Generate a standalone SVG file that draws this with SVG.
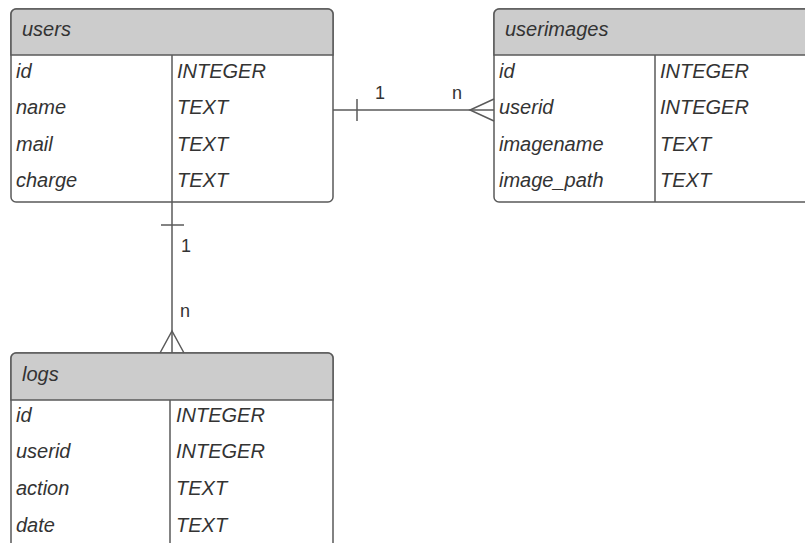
<svg xmlns="http://www.w3.org/2000/svg" width="805" height="543" viewBox="0 0 805 543">
  <style>
    .frame { fill: #ffffff; stroke: #5a5a5a; stroke-width: 1.5; }
    .head { fill: #cccccc; stroke: #5a5a5a; stroke-width: 1.5; }
    .rule { stroke: #5a5a5a; stroke-width: 1.5; fill: none; }
    .t { font-family: "Liberation Sans", Arial, sans-serif; font-style: italic; font-size: 20px; fill: #333333; }
    .card { font-family: "Liberation Sans", Arial, sans-serif; font-size: 18px; fill: #333333; }
    .link { stroke: #5a5a5a; stroke-width: 1.5; fill: none; }
  </style>

  <!-- users table -->
  <g id="users">
    <rect class="frame" x="11" y="9" width="322" height="193" rx="5"/>
    <path class="head" d="M11,55 V14 a5,5 0 0 1 5,-5 H328 a5,5 0 0 1 5,5 V55 Z"/>
    <line class="rule" x1="172" y1="55" x2="172" y2="202"/>
    <text class="t" x="22" y="36">users</text>
    <text class="t" x="16" y="78">id</text>
    <text class="t" x="16" y="114">name</text>
    <text class="t" x="16" y="151">mail</text>
    <text class="t" x="16" y="187">charge</text>
    <text class="t" x="177" y="78">INTEGER</text>
    <text class="t" x="177" y="114">TEXT</text>
    <text class="t" x="177" y="151">TEXT</text>
    <text class="t" x="177" y="187">TEXT</text>
  </g>

  <!-- userimages table -->
  <g id="userimages">
    <rect class="frame" x="494" y="9" width="330" height="193" rx="5"/>
    <path class="head" d="M494,55 V14 a5,5 0 0 1 5,-5 H830 V55 Z"/>
    <line class="rule" x1="655" y1="55" x2="655" y2="202"/>
    <text class="t" x="505" y="36">userimages</text>
    <text class="t" x="499" y="78">id</text>
    <text class="t" x="499" y="114">userid</text>
    <text class="t" x="499" y="151">imagename</text>
    <text class="t" x="499" y="187">image_path</text>
    <text class="t" x="660" y="78">INTEGER</text>
    <text class="t" x="660" y="114">INTEGER</text>
    <text class="t" x="660" y="151">TEXT</text>
    <text class="t" x="660" y="187">TEXT</text>
  </g>

  <!-- logs table -->
  <g id="logs">
    <rect class="frame" x="11" y="353" width="322" height="210" rx="5"/>
    <path class="head" d="M11,400 V358 a5,5 0 0 1 5,-5 H328 a5,5 0 0 1 5,5 V400 Z"/>
    <line class="rule" x1="170" y1="400" x2="170" y2="560"/>
    <text class="t" x="22" y="381">logs</text>
    <text class="t" x="16" y="422">id</text>
    <text class="t" x="16" y="458">userid</text>
    <text class="t" x="16" y="495">action</text>
    <text class="t" x="16" y="532">date</text>
    <text class="t" x="176" y="422">INTEGER</text>
    <text class="t" x="176" y="458">INTEGER</text>
    <text class="t" x="176" y="495">TEXT</text>
    <text class="t" x="176" y="532">TEXT</text>
  </g>

  <!-- relationships -->
  <g id="connectors">
    <!-- users 1 : n userimages -->
    <line class="link" x1="333" y1="110" x2="494" y2="110"/>
    <line class="link" x1="357" y1="99" x2="357" y2="121"/>
    <path class="link" d="M494,99 L470,110 L494,121"/>
    <text class="card" x="375" y="99">1</text>
    <text class="card" x="452" y="99">n</text>

    <!-- users 1 : n logs -->
    <line class="link" x1="172" y1="202" x2="172" y2="353"/>
    <line class="link" x1="161" y1="225" x2="184" y2="225"/>
    <path class="link" d="M160,353 L172,331 L184,353"/>
    <text class="card" x="181" y="252">1</text>
    <text class="card" x="180" y="317">n</text>
  </g>
</svg>
